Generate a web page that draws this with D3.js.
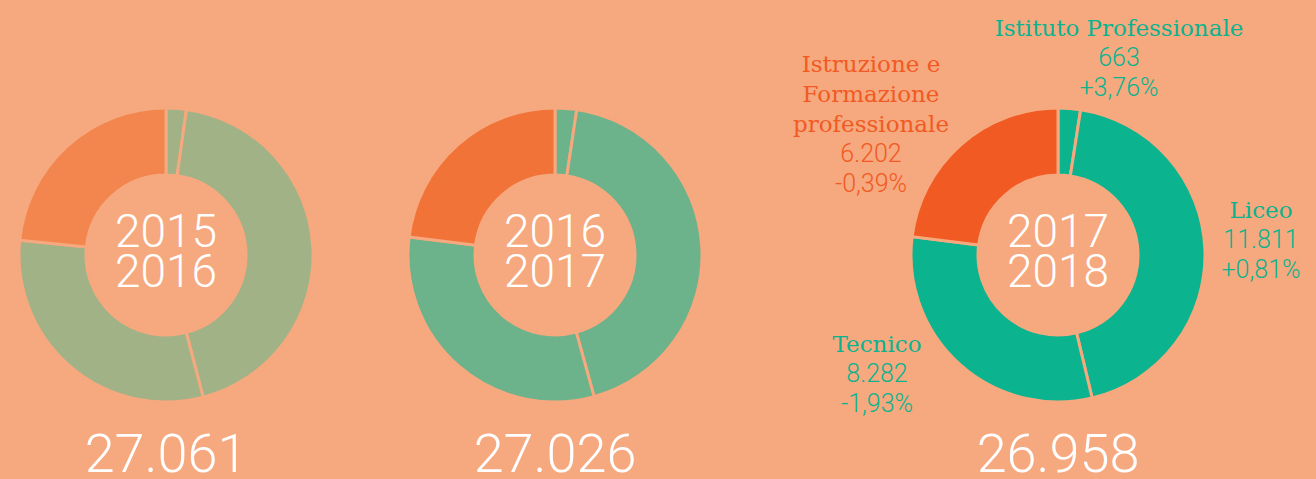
<!DOCTYPE html>
<html>
<head>
<meta charset="utf-8">
<script src="https://cdn.jsdelivr.net/npm/d3@7"></script>
<style>
  html, body { margin: 0; padding: 0; background: #F6A87E; }
  svg { display: block; }
  .year, .total { fill: #fff; font-family: Roboto, sans-serif; font-weight: 300; text-anchor: middle; }
  .lbl-name { font-family: "DejaVu Serif", serif; text-anchor: middle; }
  .lbl-num { font-family: Roboto, sans-serif; font-weight: 300; text-anchor: middle; }
</style>
</head>
<body>
<svg width="1316" height="479"></svg>
<script>
const categories = ['Istituto Professionale', 'Liceo', 'Tecnico', 'Istruzione e Formazione professionale'];
const labelLines = [['Istituto Professionale'], ['Liceo'], ['Tecnico'], ['Istruzione e', 'Formazione', 'professionale']];
const yearStart = ['2015', '2016', '2017'];
const yearEnd = ['2016', '2017', '2018'];
const values1516 = [600, 11830, 8300, 6331];
const values1617 = [639, 11716, 8445, 6226];
const values1718 = [663, 11811, 8282, 6202];
const greens = ['#A2B287', '#6CB28B', '#0BB38F'];
const oranges = ['#F3864E', '#F27338', '#F15A22'];

const series = [values1516, values1617, values1718];

const bg = '#F6A87E';
const outerR = 147, innerR = 80;
const centers = [166, 555, 1058];
const cy = 255;

// label anchors for last donut, relative to centre
const labelPos = [
  { dx: 61, dy: -219 },
  { dx: 203, dy: -37 },
  { dx: -181, dy: 97 },
  { dx: -187, dy: -183 }
];
const lineH = 30;

const it = d3.formatLocale({ decimal: ',', thousands: '.', grouping: [3], currency: ['€', ''], minus: '-' });
const fmtNum = it.format(',d');
const fmtPct = it.format('+.2%');

const svg = d3.select('svg');

const pie = d3.pie().sort(null).value(d => d);
const arc = d3.arc().innerRadius(innerR).outerRadius(outerR);

const colorFor = (i, k) => (k === 3 ? oranges[i] : greens[i]);

series.forEach((vals, i) => {
  const g = svg.append('g').attr('transform', `translate(${centers[i]}, ${cy})`);

  g.selectAll('path')
    .data(pie(vals))
    .enter()
    .append('path')
    .attr('d', arc)
    .attr('fill', (d, k) => colorFor(i, k))
    .attr('stroke', bg)
    .attr('stroke-width', 3);

  g.append('text').attr('class', 'year')
    .attr('y', -8).style('font-size', '46px').text(yearStart[i]);
  g.append('text').attr('class', 'year')
    .attr('y', 32).style('font-size', '46px').text(yearEnd[i]);

  g.append('text').attr('class', 'total')
    .attr('y', 217).style('font-size', '54px')
    .text(fmtNum(d3.sum(vals)));
});

// labels on the latest year
const last = series.length - 1;
const prev = series[last - 1];
const cur = series[last];
const lg = svg.append('g').attr('transform', `translate(${centers[last]}, ${cy})`);

categories.forEach((c, k) => {
  const col = colorFor(last, k);
  const p = labelPos[k];
  const t = lg.append('g').attr('transform', `translate(${p.dx}, ${p.dy})`);
  const lines = labelLines[k];
  lines.forEach((ln, j) => {
    t.append('text').attr('class', 'lbl-name')
      .attr('y', j * lineH).attr('fill', col).style('font-size', '23px').text(ln);
  });
  const n = lines.length;
  t.append('text').attr('class', 'lbl-num')
    .attr('y', n * lineH).attr('fill', col).style('font-size', '25px').text(fmtNum(cur[k]));
  t.append('text').attr('class', 'lbl-num')
    .attr('y', (n + 1) * lineH).attr('fill', col).style('font-size', '25px')
    .text(fmtPct(cur[k] / prev[k] - 1));
});
</script>
</body>
</html>
